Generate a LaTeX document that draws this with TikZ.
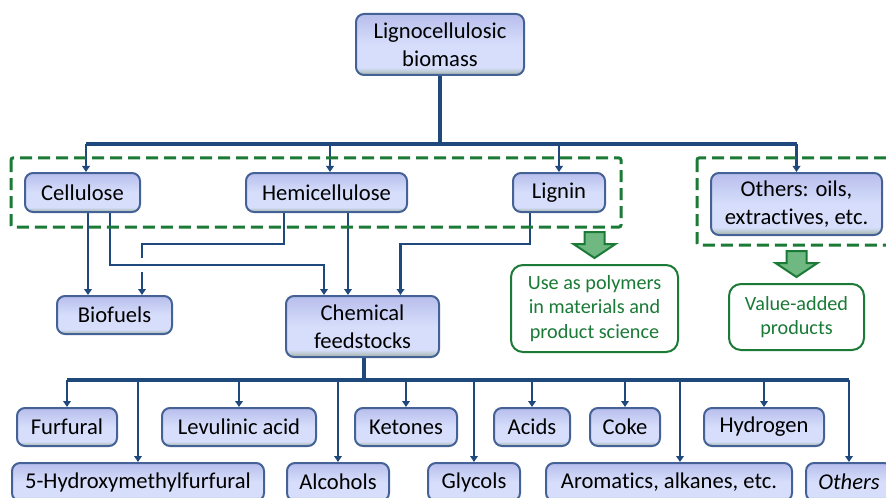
\documentclass[tikz,border=0pt]{standalone}
\usepackage{fontspec}
\setmainfont{Carlito}[Ligatures={NoCommon}]
\usetikzlibrary{arrows.meta,calc,backgrounds}

\definecolor{boxtop}{RGB}{184,190,236}
\definecolor{boxmid}{RGB}{214,222,251}
\definecolor{boxbot}{RGB}{160,178,165}
\definecolor{boxline}{RGB}{68,98,150}
\definecolor{linkblue}{RGB}{31,73,125}
\definecolor{grpgreen}{RGB}{26,122,54}
\definecolor{arrfill}{RGB}{112,184,130}
\pgfdeclareverticalshading{boxshade}{100bp}{color(0bp)=(boxbot); color(25bp)=(boxbot); color(31bp)=(boxmid); color(50bp)=(boxmid); color(75bp)=(boxtop); color(100bp)=(boxtop)}

\tikzset{
  box/.style={draw=boxline, line width=1pt, rounded corners=4pt, shade, shading=boxshade,
    align=center, inner sep=0pt, font=\fontsize{11.3}{13.8}\selectfont},
  usebox/.style={draw=grpgreen, line width=1pt, rounded corners=6pt, fill=white, text=grpgreen,
    align=center, inner sep=0pt, font=\fontsize{10.1}{12.2}\selectfont},
  grp/.style={draw=grpgreen, line width=1.5pt, dash pattern=on 6pt off 3pt},
  link/.style={draw=linkblue, line width=1.2pt, -{Triangle[length=3pt,width=3.8pt]}},
  bus/.style={draw=linkblue, line width=1.6pt},
  blockarr/.style={draw=grpgreen, line width=1pt, fill=arrfill, line join=miter}
}

\begin{document}
\begin{tikzpicture}[x=0.5pt,y=-0.5pt]
  \useasboundingbox (0,0) rectangle (886,497);
  \clip (0,0) rectangle (886,497);

  % sources
  \node[box, minimum width=84pt, minimum height=30.5pt] (bio) at (440,44.5) {Lignocellulosic\\biomass};
  \node[box, minimum width=57.5pt, minimum height=19.5pt] (cell) at (82.5,192.5) {Cellulose};
  \node[box, minimum width=80.5pt, minimum height=19.5pt] (hemi) at (326.5,192.5) {Hemicellulose};
  \node[box, minimum width=46pt, minimum height=19.5pt] (lig) at (559,192.5) {Lignin};
  \node[box, minimum width=85.5pt, minimum height=31pt] (oth) at (796.5,204) {Others: oils,\\extractives, etc.};

  \node[box, minimum width=57.5pt, minimum height=19pt] (biof) at (114.5,315) {Biofuels};
  \node[box, minimum width=76.5pt, minimum height=30.5pt] (chem) at (362.5,326.5) {Chemical\\feedstocks};
  \node[usebox, minimum width=83.5pt, minimum height=43.5pt] (poly) at (594.5,308.5) {Use as polymers\\in materials and\\product science};
  \node[usebox, minimum width=67.5pt, minimum height=33pt] (vap) at (796.5,317) {Value-added\\products};

  % products
  \begin{scope}[every node/.style={box, minimum height=19pt}]
    \node[minimum width=50pt] (furf) at (67,427) {Furfural};
    \node[minimum width=77pt] (levu) at (239,427) {Levulinic acid};
    \node[minimum width=51pt] (keto) at (406,427) {Ketones};
    \node[minimum width=38pt] (acid) at (532,427) {Acids};
    \node[minimum width=35pt] (coke) at (625,427) {Coke};
    \node[minimum width=60pt] (hydr) at (764,427) {Hydrogen};
    \node[minimum width=126pt] (hmf) at (138,482) {5-Hydroxymethylfurfural};
    \node[minimum width=51pt] (alco) at (338,482) {Alcohols};
    \node[minimum width=46pt] (glyc) at (474,482) {Glycols};
    \node[minimum width=123pt] (arom) at (669,482) {Aromatics, alkanes, etc.};
    \node[minimum width=43pt] (othr) at (849,482) {\itshape Others};
  \end{scope}

  % groups and outcomes
  \draw[grp, rounded corners=1pt] ($(cell.north west)+(-13,-14)$) rectangle ($(lig.south east)+(15,14)$);
  \draw[grp, rounded corners=1pt] ($(oth.north west)+(-13,-14)$) rectangle ($(oth.south east)+(13,9)$);
  \draw[blockarr] ($(poly.north)+(0,-6)$) coordinate (tip1) -- ++(-21,-14) -- ++(11,0) -- ++(0,-12)
    -- ++(20,0) -- ++(0,12) -- ++(11,0) -- cycle;
  \draw[blockarr] ($(vap.north)+(0,-6)$) coordinate (tip2) -- ++(-21,-14) -- ++(11,0) -- ++(0,-12)
    -- ++(20,0) -- ++(0,12) -- ++(11,0) -- cycle;

  \begin{scope}[on background layer]
    \coordinate (bus1) at ($(bio.south)+(0,68)$);
    \coordinate (cin) at ($(cell.north)+(3.5,0)$);
    \coordinate (hin) at ($(hemi.north)+(3.5,0)$);
    \draw[bus] (bio.south) -- (bus1);
    \draw[bus] (cin |- bus1) -- (oth.north |- bus1);
    \foreach \n in {cin,hin,lig.north,oth.north}
      \draw[link] (\n |- bus1) -- (\n);

    \coordinate (c1) at ($(cell.south)+(5.5,0)$);
    \coordinate (c2) at ($(cell.south)+(27.5,0)$);
    \coordinate (h1) at ($(hemi.south)+(-42.5,0)$);
    \coordinate (h2) at ($(hemi.south)+(21.5,0)$);
    \coordinate (l1) at ($(lig.south)+(-29,0)$);
    \coordinate (bfin) at ($(biof.north)+(27.5,0)$);
    \coordinate (chin1) at ($(chem.north)+(-38.5,0)$);
    \coordinate (chin3) at ($(chem.north)+(38,0)$);
    \draw[link] (c1) -- (c1 |- biof.north);
    \draw[link] (h1) -- ++(0,31) -| (bfin);
    \draw[link, preaction={draw=white, line width=7pt, -}] (c2) -- ++(0,52) -| (chin1);
    \draw[link] (h2) -- (h2 |- chem.north);
    \draw[link] (l1) -- ++(0,31) -| (chin3);

    \coordinate (bus2) at ($(chem.south)+(1.5,22)$);
    \coordinate (arin) at ($(arom.north)+(11,0)$);
    \draw[bus] ($(chem.south)+(1.5,0)$) -- (bus2);
    \draw[bus] (furf.north |- bus2) -- (othr.north |- bus2);
    \foreach \n in {furf.north,levu.north,keto.north,acid.north,coke.north,hydr.north,
                    hmf.north,alco.north,glyc.north,arin,othr.north}
      \draw[link] (\n |- bus2) -- (\n);
  \end{scope}
\end{tikzpicture}
\end{document}
